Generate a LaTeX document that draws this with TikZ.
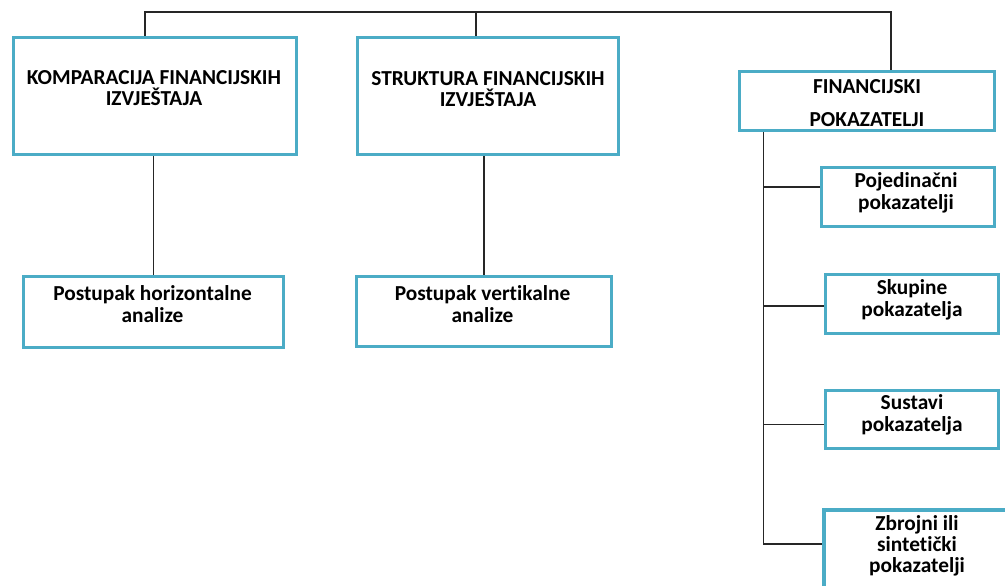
\documentclass[tikz,border=0pt]{standalone}
\usepackage{fontspec}
\setmainfont{Carlito}[Ligatures={NoCommon}]
\usetikzlibrary{calc}
\definecolor{boxblue}{RGB}{75,172,198}
\tikzset{
  bx/.style={draw=boxblue, line width=2.4pt, fill=white, inner sep=0pt},
  lbl/.style={font=\bfseries\fontsize{16}{16.5}\selectfont, align=center, inner sep=0pt},
  caps/.style={lbl, font=\bfseries\fontsize{16}{15.75}\selectfont},
  conn/.style={draw=black!85, line width=0.8pt}
}
\begin{document}
\begin{tikzpicture}[x=0.75pt,y=-0.75pt]
\useasboundingbox (0,0) rectangle (1005,585);
% boxes
\node[bx, minimum width=212.25pt, minimum height=87.75pt] (b1) at (155,96) {};
\node[bx, minimum width=195.75pt, minimum height=87.75pt] (b2) at (488,96) {};
\node[bx, minimum width=191.25pt, minimum height=44.25pt] (b3) at (867,101) {};
\node[bx, minimum width=195pt, minimum height=53.25pt] (b4) at (153.5,312) {};
\node[bx, minimum width=191.25pt, minimum height=52.5pt] (b5) at (484,311.5) {};
\node[bx, minimum width=129.75pt, minimum height=44.25pt] (b6) at (908,197) {};
\node[bx, minimum width=129.75pt, minimum height=44.25pt] (b7) at (912,304) {};
\node[bx, minimum width=129.75pt, minimum height=43.5pt] (b8) at (912,419.5) {};
\node[bx, minimum width=139.5pt, minimum height=60pt] (b9) at (917,550) {};
% labels
\node[caps] (t1) at (154,88.5) {KOMPARACIJA FINANCIJSKIH\\IZVJEŠTAJA};
\node[caps] (t2) at (488,89) {STRUKTURA FINANCIJSKIH\\IZVJEŠTAJA};
\node[caps, font=\bfseries\fontsize{16}{24.75}\selectfont] (t3) at (867,103) {FINANCIJSKI\\POKAZATELJI};
\node[lbl] (t4) at (152.5,304) {Postupak horizontalne\\analize};
\node[lbl] (t5) at (482.5,304) {Postupak vertikalne\\analize};
\node[lbl] (t6) at (906,193) {Pojedinačni\\pokazatelji};
\node[lbl] (t7) at (912,300) {Skupine\\pokazatelja};
\node[lbl] (t8) at (912,415) {Sustavi\\pokazatelja};
\node[lbl, font=\bfseries\fontsize{16}{15.75}\selectfont] (t9) at (917,546) {Zbrojni ili\\sintetički\\pokazatelji};
% connectors
\coordinate (bus) at (500,12);
\draw[conn] ([xshift=-7.5pt]b1.north) |- (bus) -| ([xshift=18pt]b3.north);
\draw[conn] ([xshift=-9pt]b2.north) -- ([xshift=-9pt]b2.north |- bus);
\draw[conn] (b4.north |- b1.south) -- (b4.north);
\draw[conn] (b5.north |- b2.south) -- (b5.north);
\coordinate (trunk) at ([xshift=19.5pt]b3.south west);
\coordinate (j6) at ([yshift=7.5pt]b6.west);
\coordinate (j7) at ([yshift=-1.5pt]b7.west);
\coordinate (j8) at ([yshift=-3.4pt]b8.west);
\coordinate (j9) at ([yshift=4.5pt]b9.west);
\draw[conn] (trunk) |- (j9);
\draw[conn] (j6 -| trunk) -- (j6);
\draw[conn] (j7 -| trunk) -- (j7);
\draw[conn] (j8 -| trunk) -- (j8);
\end{tikzpicture}
\end{document}
